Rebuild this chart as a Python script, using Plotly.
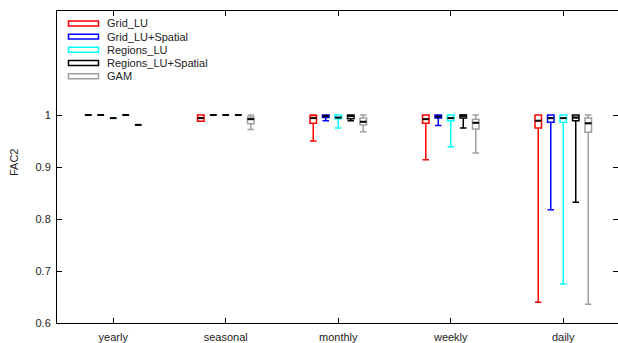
import plotly.graph_objects as go

# ---------------- data ----------------
categories = ["yearly", "seasonal", "monthly", "weekly", "daily"]
series_names = ["Grid_LU", "Grid_LU+Spatial", "Regions_LU", "Regions_LU+Spatial", "GAM"]
series_colors = ["#ff0000", "#0000ff", "#00ffff", "#000000", "#a0a0a0"]

# per-series box statistics, one value per category (yearly..daily)
grid_lu_lower = [1.000, 0.988, 0.950, 0.914, 0.640]
grid_lu_q1 = [1.000, 0.988, 0.984, 0.984, 0.975]
grid_lu_med = [1.000, 0.994, 0.994, 0.992, 0.989]
grid_lu_q3 = [1.000, 1.000, 0.999, 1.000, 1.000]
grid_lu_upper = [1.000, 1.000, 1.000, 1.000, 1.000]

grid_sp_lower = [1.000, 1.000, 0.989, 0.980, 0.818]
grid_sp_q1 = [1.000, 1.000, 0.995, 0.994, 0.986]
grid_sp_med = [1.000, 1.000, 0.998, 0.997, 0.994]
grid_sp_q3 = [1.000, 1.000, 1.000, 1.000, 1.000]
grid_sp_upper = [1.000, 1.000, 1.000, 1.000, 1.000]

reg_lu_lower = [0.994, 1.000, 0.975, 0.939, 0.675]
reg_lu_q1 = [0.994, 1.000, 0.993, 0.989, 0.986]
reg_lu_med = [0.994, 1.000, 0.995, 0.994, 0.994]
reg_lu_q3 = [0.994, 1.000, 1.000, 1.000, 1.000]
reg_lu_upper = [0.994, 1.000, 1.000, 1.000, 1.000]

reg_sp_lower = [1.000, 1.000, 0.989, 0.975, 0.832]
reg_sp_q1 = [1.000, 1.000, 0.993, 0.994, 0.989]
reg_sp_med = [1.000, 1.000, 0.998, 0.999, 0.995]
reg_sp_q3 = [1.000, 1.000, 1.000, 1.000, 1.000]
reg_sp_upper = [1.000, 1.000, 1.000, 1.000, 1.000]

gam_lower = [0.981, 0.972, 0.968, 0.927, 0.636]
gam_q1 = [0.981, 0.983, 0.981, 0.973, 0.967]
gam_med = [0.981, 0.992, 0.987, 0.985, 0.984]
gam_q3 = [0.981, 0.996, 0.994, 0.992, 0.994]
gam_upper = [0.981, 1.000, 1.000, 1.000, 1.000]

y_tick_vals = [0.6, 0.7, 0.8, 0.9, 1.0]
y_tick_text = ["0.6", "0.7", "0.8", "0.9", "1"]

stats = [
    (grid_lu_lower, grid_lu_q1, grid_lu_med, grid_lu_q3, grid_lu_upper),
    (grid_sp_lower, grid_sp_q1, grid_sp_med, grid_sp_q3, grid_sp_upper),
    (reg_lu_lower, reg_lu_q1, reg_lu_med, reg_lu_q3, reg_lu_upper),
    (reg_sp_lower, reg_sp_q1, reg_sp_med, reg_sp_q3, reg_sp_upper),
    (gam_lower, gam_q1, gam_med, gam_q3, gam_upper),
]

# ---------------- layout constants ----------------
W, H = 618, 343
ML, MR, MT, MB = 57, 0, 11, 18
PW = W - ML - MR
PH = H - MT - MB
px_per_unit = 112.5
x_range = [0.5, 0.5 + PW / px_per_unit]
offset = 12.5 / px_per_unit
box_w = 6.5 / px_per_unit
FONT = "Liberation Sans, Arial, Helvetica, sans-serif"
TXT = "#222222"

fig = go.Figure()
cat_pos = list(range(1, len(categories) + 1))

for i, (name, col, st) in enumerate(zip(series_names, series_colors, stats)):
    lo, q1, med, q3, up = st
    xs = [c + (i - 2) * offset for c in cat_pos]
    fig.add_trace(go.Box(
        x=xs, q1=q1, median=med, q3=q3, lowerfence=lo, upperfence=up,
        width=box_w, whiskerwidth=1, boxpoints=False,
        line=dict(color=col, width=1.5), fillcolor="rgba(255,255,255,0)",
        name=name, showlegend=False, hoverinfo="skip",
    ))
    fig.add_trace(go.Scatter(
        x=xs, y=med, mode="markers", showlegend=False, hoverinfo="skip",
        marker=dict(symbol="line-ew", size=4.8, color="black",
                    line=dict(color="black", width=2)),
    ))

# invisible trace to carry right-side mirror ticks
fig.add_trace(go.Scatter(x=[1], y=[None], yaxis="y2", showlegend=False,
                         hoverinfo="skip", mode="markers"))

# ---------------- custom legend (gnuplot style) ----------------
shapes = []
annotations = []
def px2paper_x(px):
    return (px - ML) / PW
def px2paper_y(py):
    return (H - MB - py) / PH

for i, (name, col) in enumerate(zip(series_names, series_colors)):
    yc = 23.5 + 13.3 * i
    shapes.append(dict(type="rect", xref="paper", yref="paper",
                       x0=px2paper_x(68.5), x1=px2paper_x(98.5),
                       y0=px2paper_y(yc - 2.5), y1=px2paper_y(yc + 2.5),
                       line=dict(color=col, width=1.5), fillcolor="rgba(0,0,0,0)"))
    annotations.append(dict(xref="paper", yref="paper", x=px2paper_x(104.5),
                            y=px2paper_y(yc), text=name, showarrow=False,
                            xanchor="left", yanchor="middle",
                            font=dict(family=FONT, size=11, color=TXT)))

annotations.append(dict(xref="paper", yref="paper", x=px2paper_x(14),
                        y=px2paper_y(163), text="FAC2", textangle=-90,
                        showarrow=False, xanchor="center", yanchor="middle",
                        font=dict(family=FONT, size=11, color=TXT)))

fig.update_layout(
    width=W, height=H,
    margin=dict(l=ML, r=MR, t=MT, b=MB, pad=0),
    paper_bgcolor="white", plot_bgcolor="white",
    font=dict(family=FONT, size=11, color=TXT),
    showlegend=False,
    shapes=shapes, annotations=annotations,
    xaxis=dict(range=x_range, tickvals=cat_pos, ticktext=categories,
               showgrid=False, zeroline=False, showline=True,
               linecolor="#000", linewidth=1, mirror="ticks",
               ticks="inside", ticklen=5, tickcolor="#000", tickwidth=1,
               ticklabelstandoff=4,
               tickfont=dict(family=FONT, size=11, color=TXT)),
    yaxis=dict(range=[0.6, 1.2], tickvals=y_tick_vals, ticktext=y_tick_text,
               showgrid=False, zeroline=False, showline=True,
               linecolor="#000", linewidth=1, mirror=False,
               ticks="inside", ticklen=5, tickcolor="#000", tickwidth=1,
               ticklabelstandoff=3,
               tickfont=dict(family=FONT, size=11, color=TXT)),
    yaxis2=dict(range=[0.6, 1.2], overlaying="y", side="right", anchor="x",
                tickvals=y_tick_vals, showticklabels=False, showgrid=False,
                zeroline=False, showline=False, ticks="inside", ticklen=5,
                tickcolor="#000", tickwidth=1),
)

fig.write_html("out.html")
